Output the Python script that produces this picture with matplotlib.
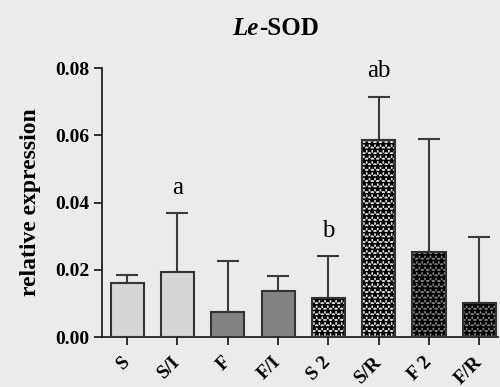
import matplotlib
matplotlib.use("Agg")
import matplotlib.pyplot as plt
import numpy as np

categories = ["S", "S/I", "F", "F/I", "S 2", "S/R", "F 2", "F/R"]
values = [0.0160, 0.0193, 0.0076, 0.0136, 0.0117, 0.0586, 0.0252, 0.0100]
err_upper = [0.0025, 0.0176, 0.0151, 0.0046, 0.0124, 0.0129, 0.0337, 0.0198]
fills = ["#d6d6d6", "#d6d6d6", "#828282", "#828282", "#dcdcdc", "#dcdcdc", "#7e7e7e", "#7e7e7e"]
hatches = [None, None, None, None, "***", "***", "***", "***"]
letters = {"S/I": "a", "S 2": "b", "S/R": "ab"}

plt.rcParams["font.family"] = ["Liberation Serif", "DejaVu Serif"]
plt.rcParams["hatch.linewidth"] = 1.2
bg = "#ebebeb"
fig = plt.figure(figsize=(5.0, 3.87), dpi=100, facecolor=bg)
ax = fig.add_axes([0.204, 0.129, 0.792, 0.695], facecolor=bg)

x = np.arange(len(categories))
w = 0.66
for i in range(len(categories)):
    if hatches[i]:
        ax.bar(x[i], values[i], w, color=fills[i], edgecolor="black", linewidth=0,
               hatch=hatches[i], zorder=2)
    else:
        ax.bar(x[i], values[i], w, color=fills[i], linewidth=0, zorder=2)
    ax.bar(x[i], values[i], w, fill=False, edgecolor="#333333", linewidth=1.5, zorder=3)
    ax.errorbar(x[i], values[i], yerr=[[0], [err_upper[i]]], fmt="none",
                ecolor="#3a3a3a", elinewidth=1.5, capsize=8, capthick=1.5, zorder=1)
    lab = letters.get(categories[i])
    if lab:
        ax.annotate(lab, (x[i], values[i] + err_upper[i]), xytext=(0, 14),
                    textcoords="offset points", ha="center", va="baseline", fontsize=18)

ax.set_xlim(-0.5, 7.37)
ax.set_ylim(0, 0.08)
ax.set_yticks([0, 0.02, 0.04, 0.06, 0.08])
ax.set_yticklabels(["0.00", "0.02", "0.04", "0.06", "0.08"], fontweight="bold", fontsize=14)
ax.set_xticks(x)
ax.set_xticklabels(categories, rotation=45, ha="right", va="center", fontweight="bold",
                   fontsize=14, rotation_mode="anchor")
for s in ["top", "right"]:
    ax.spines[s].set_visible(False)
for s in ["left", "bottom"]:
    ax.spines[s].set_linewidth(1.3)
    ax.spines[s].set_color("#222222")
ax.tick_params(axis="both", direction="out", length=6, width=1.3, color="#222222")
ax.tick_params(axis="y", pad=3)
ax.tick_params(axis="x", pad=10)
ax.set_ylabel("relative expression", fontweight="bold", fontsize=17)
ax.yaxis.set_label_coords(-0.153, 0.5)

fig.text(0.518, 0.91, "Le", fontstyle="italic", fontweight="bold", fontsize=18,
         ha="right", va="baseline")
fig.text(0.518, 0.91, "-SOD", fontweight="bold", fontsize=18, ha="left", va="baseline")

fig.savefig("out.png", dpi=100, facecolor=bg)
